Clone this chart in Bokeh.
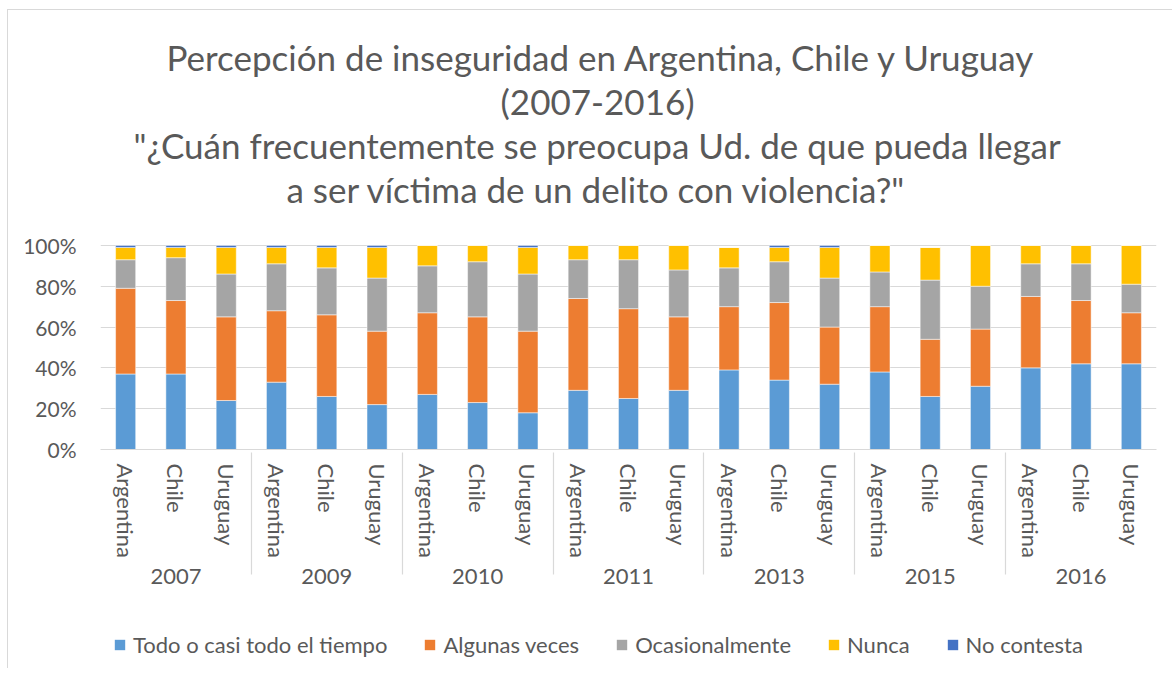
from bokeh.plotting import figure
from bokeh.layouts import column
from bokeh.models import (FactorRange, Title, Range1d, FixedTicker, NumeralTickFormatter,
                          Legend, LegendItem, ColumnDataSource)
from bokeh.embed import file_html
from bokeh.resources import INLINE

years = ["2007", "2009", "2010", "2011", "2013", "2015", "2016"]
countries = ["Argentina", "Chile", "Uruguay"]
series = ["Todo o casi todo el tiempo", "Algunas veces", "Ocasionalmente", "Nunca", "No contesta"]
colors = ["#5B9BD5", "#ED7D31", "#A5A5A5", "#FFC000", "#4472C4"]

todo = [37, 37, 24, 33, 26, 22, 27, 23, 18, 29, 25, 29, 39, 34, 32, 38, 26, 31, 40, 42, 42]
algunas = [42, 36, 41, 35, 40, 36, 40, 42, 40, 45, 44, 36, 31, 38, 28, 32, 28, 28, 35, 31, 25]
ocasional = [14, 21, 21, 23, 23, 26, 23, 27, 28, 19, 24, 23, 19, 20, 24, 17, 29, 21, 16, 18, 14]
nunca = [6, 5, 13, 8, 10, 15, 10, 8, 13, 7, 7, 12, 10, 7, 15, 13, 16, 20, 9, 9, 19]
no_contesta = [1, 1, 1, 1, 1, 1, 0, 0, 1, 0, 0, 0, 0, 1, 1, 0, 0, 0, 0, 0, 0]

title_lines = ["Percepción de inseguridad en Argentina, Chile y Uruguay",
               "(2007-2016)",
               "\"¿Cuán frecuentemente se preocupa Ud. de que pueda llegar",
               "a ser víctima de un delito con violencia?\""]
title_offsets = [66, 400, 33, 186]

FONT = "Lato"
TXT = "#595959"
GRID = "#d9d9d9"

factors = [(y, c) for y in years for c in countries]
keys = ["s0", "s1", "s2", "s3", "s4"]
data = {"x": factors}
for k, arr in zip(keys, [todo, algunas, ocasional, nunca, no_contesta]):
    data[k] = [v / 100 for v in arr]
source = ColumnDataSource(data)

xrange = FactorRange(*factors, factor_padding=0, subgroup_padding=0,
                     group_padding=0, range_padding=0)

p = figure(frame_width=1056, frame_height=240, output_backend="svg", toolbar_location=None,
           x_range=xrange, y_range=Range1d(0, 1.176),
           min_border_left=92, min_border_right=17, min_border_top=199, min_border_bottom=175)
p.outline_line_color = None

renderers = p.vbar_stack(keys, x="x", width=0.4, color=colors, source=source,
                         line_color="white", line_width=0.5)

# y axis
p.yaxis.ticker = FixedTicker(ticks=[0, 0.2, 0.4, 0.6, 0.8, 1.0])
p.yaxis.formatter = NumeralTickFormatter(format="0%")
p.yaxis.axis_line_color = None
p.yaxis.major_tick_line_color = None
p.yaxis.minor_tick_line_color = None
p.yaxis.major_label_text_font = FONT
p.yaxis.major_label_text_font_size = "21px"
p.yaxis.major_label_text_color = TXT
p.yaxis.major_label_standoff = 18
p.ygrid.grid_line_color = GRID
p.ygrid.grid_line_width = 1.2
p.xgrid.grid_line_color = None

# x axis
xa = p.xaxis[0]
xa.axis_line_color = GRID
xa.axis_line_width = 1.2
xa.major_tick_line_color = None
xa.minor_tick_line_color = None
xa.major_label_orientation = "vertical"
xa.major_label_text_font = FONT
xa.major_label_text_font_size = "22px"
xa.major_label_text_color = TXT
xa.major_label_standoff = 8
xa.group_text_font = FONT
xa.group_text_font_size = "22px"
xa.group_text_font_style = "normal"
xa.group_text_color = TXT
xa.separator_line_color = GRID
xa.separator_line_width = 1.2

for line, off in zip(reversed(title_lines), reversed(title_offsets)):
    p.add_layout(Title(text=line, align="left", text_font=FONT, text_font_size="35px",
                       text_font_style="normal", text_color=TXT, offset=off,
                       standoff=0), "above")

# legend strip: a separate figure (same data, same x range, bars out of its view)
pl = figure(width=1165, height=44, output_backend="svg", toolbar_location=None,
            x_range=xrange, y_range=Range1d(2, 3),
            x_axis_type=None, y_axis_type=None, min_border=0)
pl.outline_line_color = None
pl.xgrid.visible = False
pl.ygrid.visible = False
swatches = pl.vbar_stack(keys, x="x", width=0.4, color=colors, source=source, line_color=None)
legend = Legend(items=[LegendItem(label=s, renderers=[r]) for s, r in zip(series, swatches)],
                orientation="horizontal", location=(13, 10),
                label_text_font=FONT, label_text_font_size="22px", label_text_color=TXT,
                glyph_width=13, glyph_height=13, label_standoff=7, spacing=36,
                padding=0, margin=0,
                border_line_color=None, background_fill_alpha=0)
pl.add_layout(legend, "center")

layout = column(p, pl, spacing=0,
                styles={"margin-left": "7px", "margin-top": "9px",
                        "border-left": "1px solid #d9d9d9", "border-top": "1px solid #d9d9d9"})

open("out.html", "w").write(file_html(layout, INLINE))
